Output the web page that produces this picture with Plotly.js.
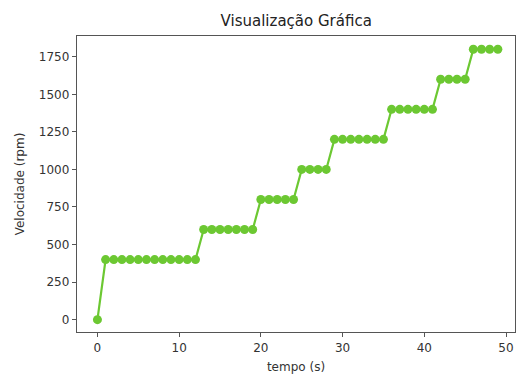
<!DOCTYPE html>
<html>
<head>
<meta charset="utf-8">
<script src="https://cdn.plot.ly/plotly-3.0.1.min.js"></script>
<style>html,body{margin:0;padding:0;background:#fff;}#chart{width:517px;height:376px;}</style>
</head>
<body>
<div id="chart"></div>
<script>
const tempo = [0,1,2,3,4,5,6,7,8,9,10,11,12,13,14,15,16,17,18,19,20,21,22,23,24,25,26,27,28,29,30,31,32,33,34,35,36,37,38,39,40,41,42,43,44,45,46,47,48,49];
const velocidade = [0,
  400,400,400,400,400,400,400,400,400,400,400,400,
  600,600,600,600,600,600,600,
  800,800,800,800,800,
  1000,1000,1000,1000,
  1200,1200,1200,1200,1200,1200,1200,
  1400,1400,1400,1400,1400,1400,
  1600,1600,1600,1600,
  1800,1800,1800,1800];
const xTicks = [0,10,20,30,40,50];
const yTicks = [0,250,500,750,1000,1250,1500,1750];

const font = 'DejaVu Sans, sans-serif';
const axisCommon = {
  showgrid: false, zeroline: false, showline: true, mirror: true,
  linecolor: '#555', linewidth: 1.2,
  ticks: 'outside', ticklen: 4, tickwidth: 1, tickcolor: '#555',
  tickfont: {family: font, size: 12, color: '#333'}
};
Plotly.newPlot('chart', [{
  x: tempo, y: velocidade, type: 'scatter', mode: 'lines+markers',
  line: {color: '#6cc832', width: 2.2},
  marker: {color: '#6cc832', size: 9}
}], {
  width: 517, height: 376,
  margin: {l: 77, r: 2, t: 36, b: 44},
  paper_bgcolor: '#fff', plot_bgcolor: '#fff',
  showlegend: false,
  title: {text: 'Visualização Gráfica', font: {family: font, size: 15, color: '#222'}, x: 0.573, xanchor: 'center', y: 0.945, yanchor: 'middle'},
  xaxis: Object.assign({}, axisCommon, {
    range: [-2.5, 51.1], tickvals: xTicks, ticktext: xTicks.map(String),
    title: {text: 'tempo (s)', font: {family: font, size: 12, color: '#333'}, standoff: 9}
  }),
  yaxis: Object.assign({}, axisCommon, {
    range: [-82, 1888], tickvals: yTicks, ticktext: yTicks.map(String),
    title: {text: 'Velocidade (rpm)', font: {family: font, size: 12, color: '#333'}, standoff: 11}
  })
}, {staticPlot: true});
</script>
</body>
</html>
